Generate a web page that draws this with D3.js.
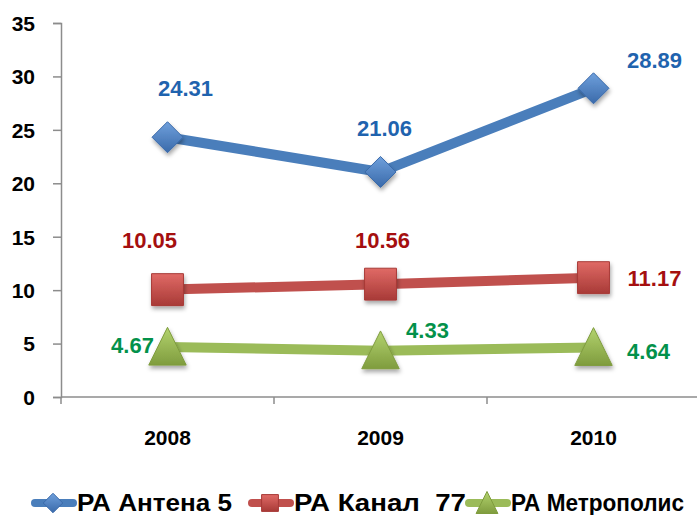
<!DOCTYPE html>
<html><head><meta charset="utf-8">
<script src="https://cdn.jsdelivr.net/npm/d3@7"></script>
<style>body{margin:0;background:#fff}svg{display:block}</style>
</head><body>
<script>
const years = ["2008","2009","2010"];
const seriesNames = ["РА Антена 5","РА Канал  77","РА Метрополис"];
const antena5 = [24.31, 21.06, 28.89];
const kanal77 = [10.05, 10.56, 11.17];
const metropolis = [4.67, 4.33, 4.64];
const yTicks = [0,5,10,15,20,25,30,35];

const W=697,H=515;
const svg=d3.select("body").append("svg").attr("width",W).attr("height",H);
const defs=svg.append("defs");
const f=defs.append("filter").attr("id","sh").attr("x","-50%").attr("y","-50%").attr("width","200%").attr("height","200%");
f.append("feDropShadow").attr("dx",1).attr("dy",3).attr("stdDeviation",2).attr("flood-color","#000").attr("flood-opacity",0.35);

const x=d3.scaleBand().domain(years).range([61,700]);
const y=d3.scaleLinear().domain([0,35]).range([397,23]);

const styles=[
 {line:"#4A7EBB",c1:"#6FA0DC",c2:"#3A6AAA",label:"#1F63AE",shape:"diamond",
  off:[[18,-49],[4,-44],[61,-28]]},
 {line:"#C0504D",c1:"#E06A66",c2:"#A83A37",label:"#A50F0F",shape:"square",
  off:[[-18,-49],[2,-44],[61,1]]},
 {line:"#9BBB59",c1:"#B3D36E",c2:"#7F9C3E",label:"#03914A",shape:"triangle",
  off:[[-35,-2],[47,-20],[55,4]]}
];
const data=[antena5,kanal77,metropolis];

styles.forEach((s,i)=>{
  const g=defs.append("linearGradient").attr("id","g"+i).attr("x1","0").attr("y1","0").attr("x2","0").attr("y2","1");
  g.append("stop").attr("offset","0%").attr("stop-color",s.c1);
  g.append("stop").attr("offset","100%").attr("stop-color",s.c2);
});

const FONT="Liberation Sans, Arial, sans-serif";
// axes
const yAxis=d3.axisLeft(y).tickValues(yTicks).tickSize(8).tickPadding(18);
const ya=svg.append("g").attr("transform","translate(61,0)").call(yAxis);
ya.select(".domain").attr("stroke","#8c8c8c").attr("stroke-width",1.5);
ya.selectAll(".tick line").attr("stroke","#8c8c8c").attr("stroke-width",1.5);
ya.selectAll("text").attr("font-family",FONT).attr("font-weight","bold").attr("font-size","21px").attr("fill","#000").attr("dy","0.35em");

const xa=svg.append("g").attr("transform","translate(0,397)");
xa.append("line").attr("x1",61).attr("x2",697).attr("stroke","#8c8c8c").attr("stroke-width",1.5);
years.forEach((yr,i)=>{ if(i>0){ const bx=x(yr); xa.append("line").attr("x1",bx).attr("x2",bx).attr("y1",0).attr("y2",7).attr("stroke","#8c8c8c").attr("stroke-width",1.5);} });
xa.append("line").attr("x1",61).attr("x2",61).attr("y1",0).attr("y2",7).attr("stroke","#8c8c8c").attr("stroke-width",1.5);
xa.selectAll("text.xl").data(years).enter().append("text")
  .attr("x",d=>x(d)+x.bandwidth()/2).attr("y",48).attr("text-anchor","middle")
  .attr("font-family",FONT).attr("font-weight","bold").attr("font-size","21px").text(d=>d);

function shapePath(shape,sz){
  if(shape==="diamond") return d3.symbol(d3.symbolDiamond2,sz*sz*0.5)();
  if(shape==="square") return d3.symbol(d3.symbolSquare2,sz*sz)();
  return `M0,${-sz*0.55}L${sz*0.52},${sz*0.5}L${-sz*0.52},${sz*0.5}Z`;
}
const cx=d=>x(d)+x.bandwidth()/2;
const lineGen=d3.line().x(d=>cx(d.yr)).y(d=>y(d.v));

data.forEach((vals,i)=>{
  const s=styles[i];
  const pts=vals.map((v,j)=>({yr:years[j],v}));
  svg.append("path").datum(pts).attr("d",lineGen).attr("fill","none").attr("stroke",s.line).attr("stroke-width",10).attr("stroke-linejoin","round");
});
data.forEach((vals,i)=>{
  const s=styles[i];
  const pts=vals.map((v,j)=>({yr:years[j],v}));
  svg.selectAll(null).data(pts).enter().append("path")
   .attr("transform",d=>`translate(${cx(d.yr)},${y(d.v)})`)
   .attr("d",shapePath(s.shape, s.shape==="diamond"?35:(s.shape==="square"?36:36)))
   .attr("fill",`url(#g${i})`).attr("stroke",s.c2).attr("stroke-width",1).attr("filter","url(#sh)");
  svg.selectAll(null).data(pts).enter().append("text")
   .attr("x",(d,j)=>cx(d.yr)+s.off[j][0]).attr("y",(d,j)=>y(d.v)+s.off[j][1])
   .attr("dy","0.35em").attr("text-anchor","middle")
   .attr("font-family",FONT).attr("font-weight","bold").attr("font-size","22px")
   .attr("fill",s.label).text(d=>d.v.toFixed(2));
});

// legend
const legX=[33,250,467];
const legW=[155,172,173];
const leg=svg.append("g");
seriesNames.forEach((n,i)=>{
  const s=styles[i];
  const g=leg.append("g").attr("transform",`translate(${legX[i]},503)`);
  g.append("line").attr("x1",2).attr("x2",40).attr("stroke",s.line).attr("stroke-width",8).attr("stroke-linecap","round");
  g.append("path").attr("transform","translate(20,0)").attr("d",shapePath(s.shape,s.shape==="diamond"?22:(s.shape==="square"?19:21)))
   .attr("fill",`url(#g${i})`).attr("stroke",s.c2);
  g.append("text").attr("x",44).attr("dy","0.36em")
   .attr("font-family",FONT).attr("font-weight","bold").attr("font-size","23px")
   .attr("textLength",legW[i]).attr("lengthAdjust","spacingAndGlyphs")
   .attr("fill","#000").style("white-space","pre").text(n);
});
</script>
</body></html>
